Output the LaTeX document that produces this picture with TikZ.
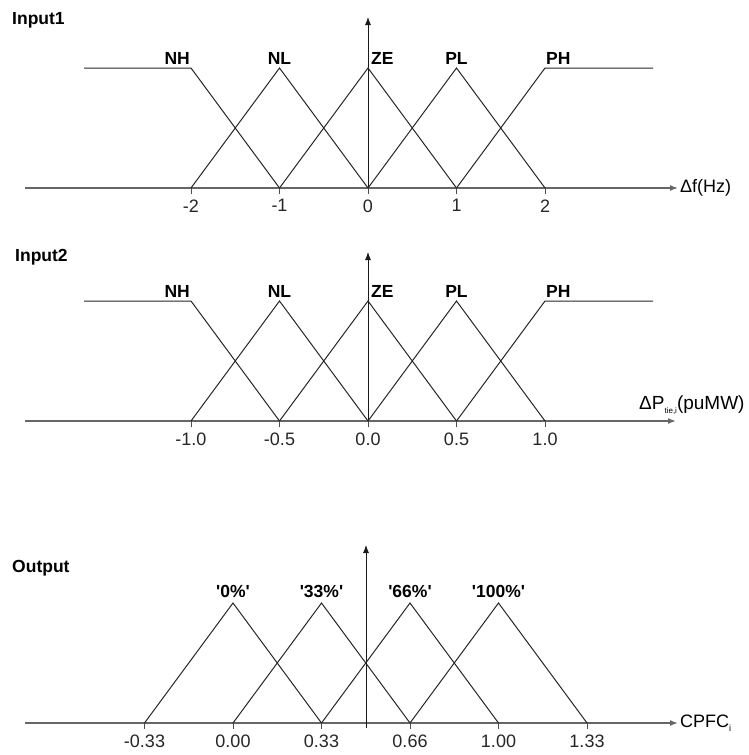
\documentclass[tikz,border=0pt]{standalone}
\usepackage{fontspec}
\setmainfont{Liberation Sans}
\usetikzlibrary{arrows, arrows.meta, positioning, calc}

\begin{document}
\begin{tikzpicture}[x=1pt,y=-1pt,>={Latex[length=8pt,width=6pt]},
  haxis/.style={->,line width=1.5pt,black!60},
  vaxis/.style={->,line width=0.8pt,black!90},
  mf/.style={line width=1pt,black!85},
  tickmark/.style={line width=1pt,black!70},
  ticklab/.style={below=4pt,inner sep=1pt,font=\fontsize{18}{18}\selectfont,black!85},
  setlab/.style={inner sep=1pt,yshift=2pt,font=\bfseries\fontsize{17.5}{18}\selectfont},
  title/.style={anchor=west,inner sep=0pt,font=\bfseries\fontsize{17.5}{18}\selectfont}]
  \useasboundingbox (0,0) rectangle (749,755);

  % Input1
  \node[title] (in1) at (12,20) {Input1};
  \coordinate (o1) at (25,188);
  \coordinate (e1) at (678,188);
  \coordinate (z1) at (368,188);
  \coordinate (t1) at (368,17);
  \draw[haxis] (o1) -- (e1);
  \draw[vaxis] (z1) -- (t1);
  \node[anchor=west,inner sep=2pt,font=\fontsize{18}{18}\selectfont] (u1) at (e1) {Δf(Hz)};
  \foreach \v [count=\i] in {-2,-1,0,1,2} {
    \coordinate (b1\i) at ({368+88.5*(\i-3)},188);
    \coordinate (p1\i) at ({368+88.5*(\i-3)},68);
    \draw[tickmark] (b1\i) -- ++(0,6) node[ticklab] {\v};
  }
  \coordinate (l1) at (84,68);
  \coordinate (r1) at (653,68);
  \draw[mf] (l1) -- (p11) -- (b12);
  \draw[mf] (b14) -- (p15) -- (r1);
  \foreach \k [evaluate=\k as \a using int(\k-1), evaluate=\k as \c using int(\k+1)] in {2,3,4}
    \draw[mf] (b1\a) -- (p1\k) -- (b1\c);
  \node[setlab,anchor=south east] (nh1) at (p11) {NH};
  \node[setlab,anchor=south] (nl1) at (p12) {NL};
  \node[setlab,anchor=south west,xshift=2pt] (ze1) at (p13) {ZE};
  \node[setlab,anchor=south] (pl1) at (p14) {PL};
  \node[setlab,anchor=south west] (ph1) at (p15) {PH};

  % Input2
  \node[title] (in2) at (15,257) {Input2};
  \coordinate (o2) at (25,421);
  \coordinate (e2) at (676,421);
  \coordinate (z2) at (368,421);
  \coordinate (t2) at (368,252);
  \draw[haxis] (o2) -- (e2);
  \draw[vaxis] (z2) -- (t2);
  \node[anchor=base west,inner sep=0pt,font=\fontsize{19}{19}\selectfont] (u2) at (639,409)
    {ΔP\raisebox{-4pt}{\fontsize{8}{8}\selectfont tie,i}(puMW)};
  \foreach \v [count=\i] in {-1.0,-0.5,0.0,0.5,1.0} {
    \coordinate (b2\i) at ({368+88.5*(\i-3)},421);
    \coordinate (p2\i) at ({368+88.5*(\i-3)},301);
    \draw[tickmark] (b2\i) -- ++(0,6) node[ticklab] {\v};
  }
  \coordinate (l2) at (84,301);
  \coordinate (r2) at (653,301);
  \draw[mf] (l2) -- (p21) -- (b22);
  \draw[mf] (b24) -- (p25) -- (r2);
  \foreach \k [evaluate=\k as \a using int(\k-1), evaluate=\k as \c using int(\k+1)] in {2,3,4}
    \draw[mf] (b2\a) -- (p2\k) -- (b2\c);
  \node[setlab,anchor=south east] (nh2) at (p21) {NH};
  \node[setlab,anchor=south] (nl2) at (p22) {NL};
  \node[setlab,anchor=south west,xshift=2pt] (ze2) at (p23) {ZE};
  \node[setlab,anchor=south] (pl2) at (p24) {PL};
  \node[setlab,anchor=south west] (ph2) at (p25) {PH};

  % Output
  \node[title] (out) at (12,568) {Output};
  \coordinate (o3) at (25,723);
  \coordinate (e3) at (678,723);
  \coordinate (z3) at (366,728);
  \coordinate (t3) at (366,545);
  \draw[haxis] (o3) -- (e3);
  \draw[vaxis] (z3) -- (t3);
  \node[anchor=west,inner sep=2pt,font=\fontsize{18}{18}\selectfont] (u3) at (e3)
    {CPFC\raisebox{-4pt}{\fontsize{9}{9}\selectfont i}};
  \foreach \v [count=\i] in {-0.33,0.00,0.33,0.66,1.00,1.33} {
    \coordinate (c\i) at ({233+88.5*(\i-2)},723);
    \coordinate (q\i) at ({233+88.5*(\i-2)},603);
    \draw[tickmark] (c\i) -- ++(0,6) node[ticklab] {\v};
  }
  \foreach \k [evaluate=\k as \a using int(\k-1), evaluate=\k as \c using int(\k+1)] in {2,3,4,5}
    \draw[mf] (c\a) -- (q\k) -- (c\c);
  \node[setlab,anchor=south,yshift=2pt] (s0) at (q2) {\textquotesingle 0\%\textquotesingle};
  \node[setlab,anchor=south,yshift=2pt] (s33) at (q3) {\textquotesingle 33\%\textquotesingle};
  \node[setlab,anchor=south,yshift=2pt] (s66) at (q4) {\textquotesingle 66\%\textquotesingle};
  \node[setlab,anchor=south,yshift=2pt] (s100) at (q5) {\textquotesingle 100\%\textquotesingle};
\end{tikzpicture}
\end{document}
